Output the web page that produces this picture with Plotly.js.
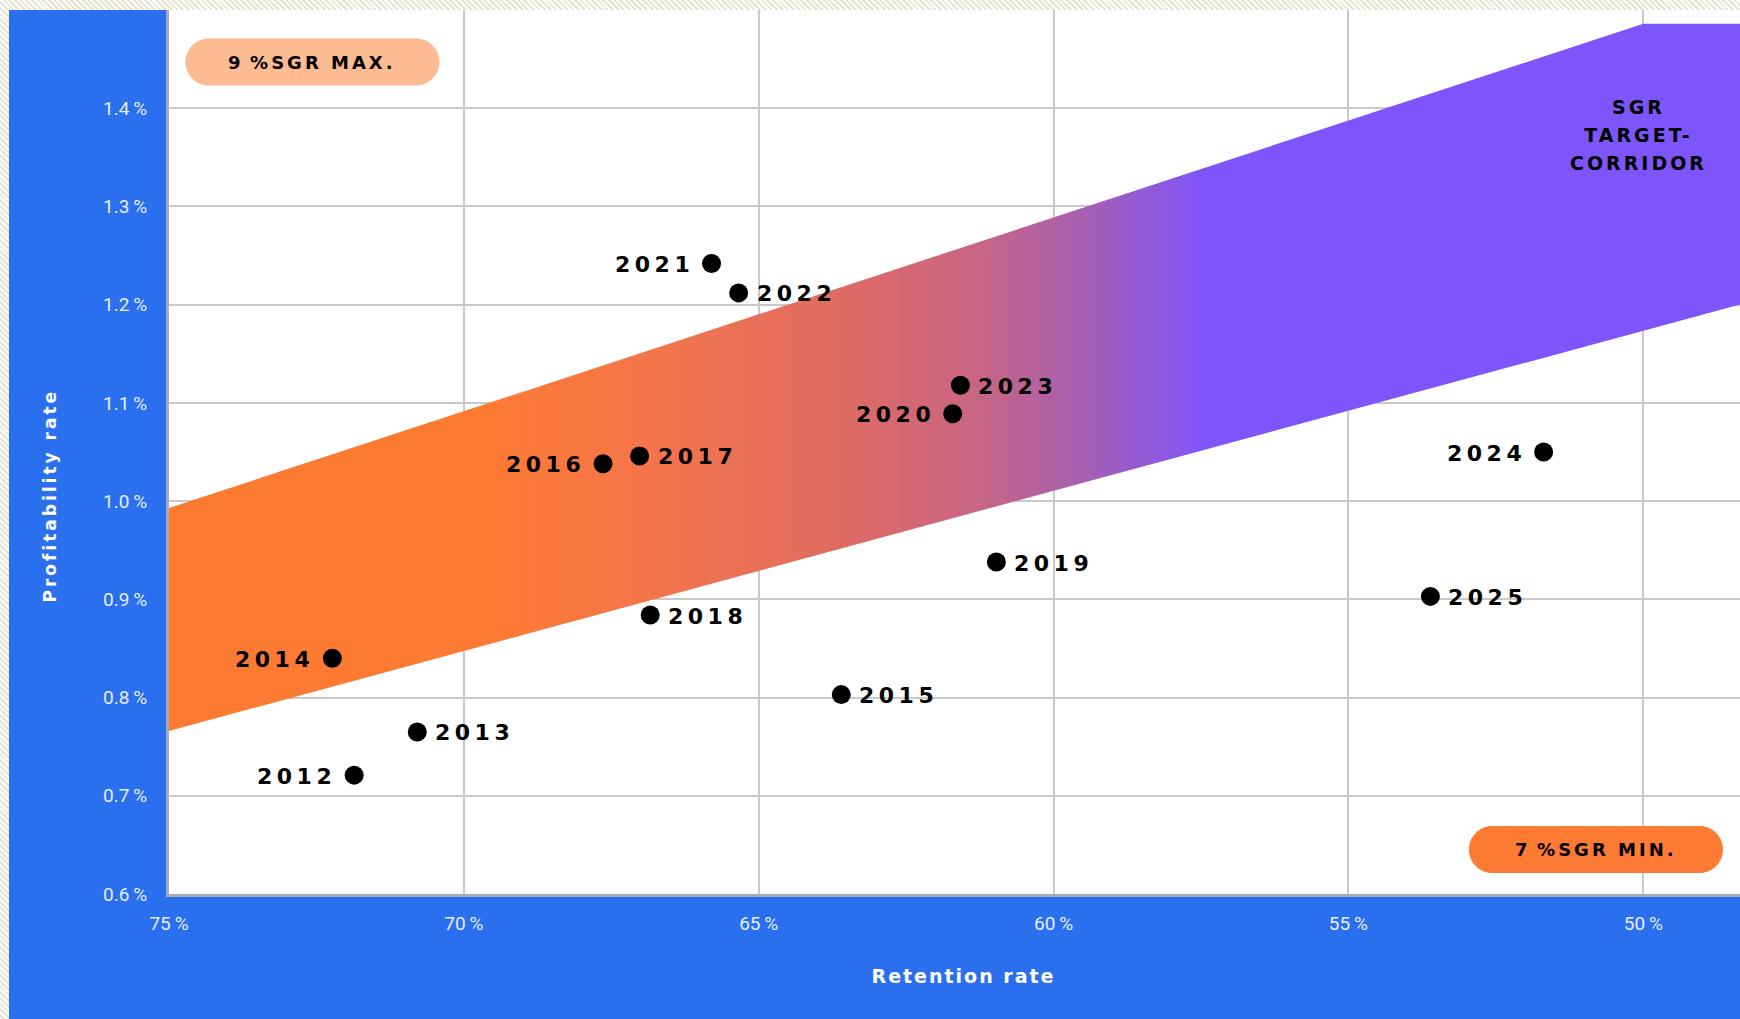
<!DOCTYPE html>
<html>
<head>
<meta charset="utf-8">
<script src="https://cdn.plot.ly/plotly-3.0.1.min.js"></script>
<style>
html, body { margin:0; padding:0; width:1740px; height:1019px; overflow:hidden;
  background: repeating-linear-gradient(45deg, #ffffff 0px, #ffffff 2px, #e6e4d2 2px, #e6e4d2 4px); }
#chart { position:absolute; left:9px; top:10px; width:1731px; height:1009px; }
.annotation-text { letter-spacing: 3px; }
.annotation-text[style*="font-size: 22px"] { letter-spacing: 4.5px; }
.xtitle { letter-spacing: 2px; transform: translateX(9px); }
</style>
</head>
<body>
<div id="chart"></div>
<script>
// ---- data ----
const years = [2012, 2013, 2014, 2015, 2016, 2017, 2018, 2019, 2020, 2021, 2022, 2023, 2024, 2025];
const retentionRate = [71.86, 70.79, 72.23, 63.60, 67.64, 67.02, 66.84, 60.97, 61.71, 65.80, 65.34, 61.58, 51.69, 53.61];
const profitabilityRate = [0.721, 0.765, 0.840, 0.803, 1.038, 1.046, 0.884, 0.938, 1.089, 1.242, 1.212, 1.118, 1.050, 0.903];
const corridorRetention = [75, 50, 48, 48, 75];
const corridorProfitability = [0.993, 1.486, 1.486, 1.206, 0.766];
const xTickValues = [75, 70, 65, 60, 55, 50];
const yTickValues = [0.6, 0.7, 0.8, 0.9, 1.0, 1.1, 1.2, 1.3, 1.4];
const xAxisTitle = 'Retention rate';
const yAxisTitle = 'Profitability rate';
const maxLabel = '9\u202f%SGR MAX.';
const minLabel = '7\u202f%SGR MIN.';
const corridorLines = ['SGR', 'TARGET-', 'CORRIDOR'];

// ---- styling / placement ----
const labelSide = ['left','right','left','right','left','right','right','right','left','left','right','right','left','right'];
const BLUE = '#2A70EE';
const wideFont = 'DejaVu Sans';

function pillPath(w, h) {
  const r = h / 2, k = 0.5523 * r, a = w / 2 - r;
  return `M ${-a},${-r} L ${a},${-r} C ${a + k},${-r} ${a + r},${-k} ${a + r},0 ` +
         `C ${a + r},${k} ${a + k},${r} ${a},${r} L ${-a},${r} ` +
         `C ${-a - k},${r} ${-a - r},${k} ${-a - r},0 C ${-a - r},${-k} ${-a - k},${-r} ${-a},${-r} Z`;
}

const corridor = {
  type: 'scatter', mode: 'none',
  x: corridorRetention, y: corridorProfitability,
  fill: 'toself',
  fillgradient: {
    type: 'horizontal', start: 69.5, stop: 57.4,
    colorscale: [[0, '#FD7A33'], [0.22, '#F4754A'], [0.48, '#E06C62'], [0.68, '#C86584'], [0.83, '#A55FB2'], [1, '#7E55FA']]
  },
  hoverinfo: 'skip', showlegend: false
};

const points = {
  type: 'scatter', mode: 'markers',
  x: retentionRate, y: profitabilityRate,
  text: years.map(String),
  marker: { color: '#000000', size: 19, line: { width: 0 } },
  hovertemplate: '%{text}: %{x}% / %{y}%<extra></extra>',
  showlegend: false
};

const yearAnnotations = years.map((yr, i) => ({
  x: retentionRate[i], y: profitabilityRate[i], xref: 'x', yref: 'y',
  text: String(yr), showarrow: false,
  xanchor: labelSide[i] === 'left' ? 'right' : 'left', yanchor: 'middle',
  xshift: labelSide[i] === 'left' ? -16 : 16, yshift: -1,
  font: { family: wideFont, size: 22, color: '#000000', weight: 700 }
}));

const layout = {
  width: 1731, height: 1009,
  margin: { l: 160, r: 0, t: 0, b: 125, pad: 0 },
  paper_bgcolor: BLUE, plot_bgcolor: '#FFFFFF',
  showlegend: false,
  font: { family: 'Roboto', color: '#E6EDFC' },
  xaxis: {
    range: [75, 48.36], autorange: false,
    tickvals: xTickValues, ticktext: xTickValues.map(v => v + '\u2009%'),
    tickfont: { family: 'Roboto', size: 19, color: '#E6EDFC' },
    ticks: '', ticklabelstandoff: 10,
    showgrid: true, gridcolor: '#C9C9C9', gridwidth: 2,
    zeroline: false, showline: true, linecolor: '#A4ACBA', linewidth: 3,
    automargin: false,
    title: { text: xAxisTitle, standoff: 36, font: { family: wideFont, size: 19, color: '#FFFFFF', weight: 700 } }
  },
  yaxis: {
    range: [0.6, 1.5], autorange: false,
    tickvals: yTickValues, ticktext: yTickValues.map(v => v.toFixed(1) + '\u2009%'),
    tickfont: { family: 'Roboto', size: 19, color: '#E6EDFC' },
    ticks: '', ticklabelstandoff: 15,
    showgrid: true, gridcolor: '#C9C9C9', gridwidth: 2,
    zeroline: false, showline: true, linecolor: '#A4ACBA', linewidth: 3,
    automargin: false
  },
  shapes: [
    { type: 'path', xref: 'paper', yref: 'paper', xsizemode: 'pixel', ysizemode: 'pixel',
      xanchor: 0.0913, yanchor: 0.9411, path: pillPath(254, 47),
      fillcolor: '#FDBB92', line: { width: 0 }, layer: 'above' },
    { type: 'path', xref: 'paper', yref: 'paper', xsizemode: 'pixel', ysizemode: 'pixel',
      xanchor: 0.9083, yanchor: 0.0503, path: pillPath(254, 47),
      fillcolor: '#FF7A33', line: { width: 0 }, layer: 'above' }
  ],
  annotations: [
    { x: -0.0757, y: 0.4508, xref: 'paper', yref: 'paper', xanchor: 'center', yanchor: 'middle',
      text: yAxisTitle, textangle: -90,
      showarrow: false, font: { family: wideFont, size: 17, color: '#FFFFFF', weight: 700 } },
    { x: 0.0913, y: 0.9411, xref: 'paper', yref: 'paper', xanchor: 'center', yanchor: 'middle',
      text: maxLabel, showarrow: false,
      font: { family: wideFont, size: 18, color: '#000000', weight: 700 } },
    { x: 0.9083, y: 0.0503, xref: 'paper', yref: 'paper', xanchor: 'center', yanchor: 'middle',
      text: minLabel, showarrow: false,
      font: { family: wideFont, size: 18, color: '#000000', weight: 700 } },
    { x: 0.9357, y: 0.8582, xref: 'paper', yref: 'paper', xanchor: 'center', yanchor: 'middle',
      text: corridorLines.map(s => '<span style="font-size:19px">' + s + '</span>').join('<br>'),
      showarrow: false,
      align: 'center', font: { family: wideFont, size: 21.4, color: '#000000', weight: 700 } }
  ].concat(yearAnnotations)
};

Plotly.newPlot('chart', [corridor, points], layout, { displayModeBar: false, responsive: false });
</script>
</body>
</html>
